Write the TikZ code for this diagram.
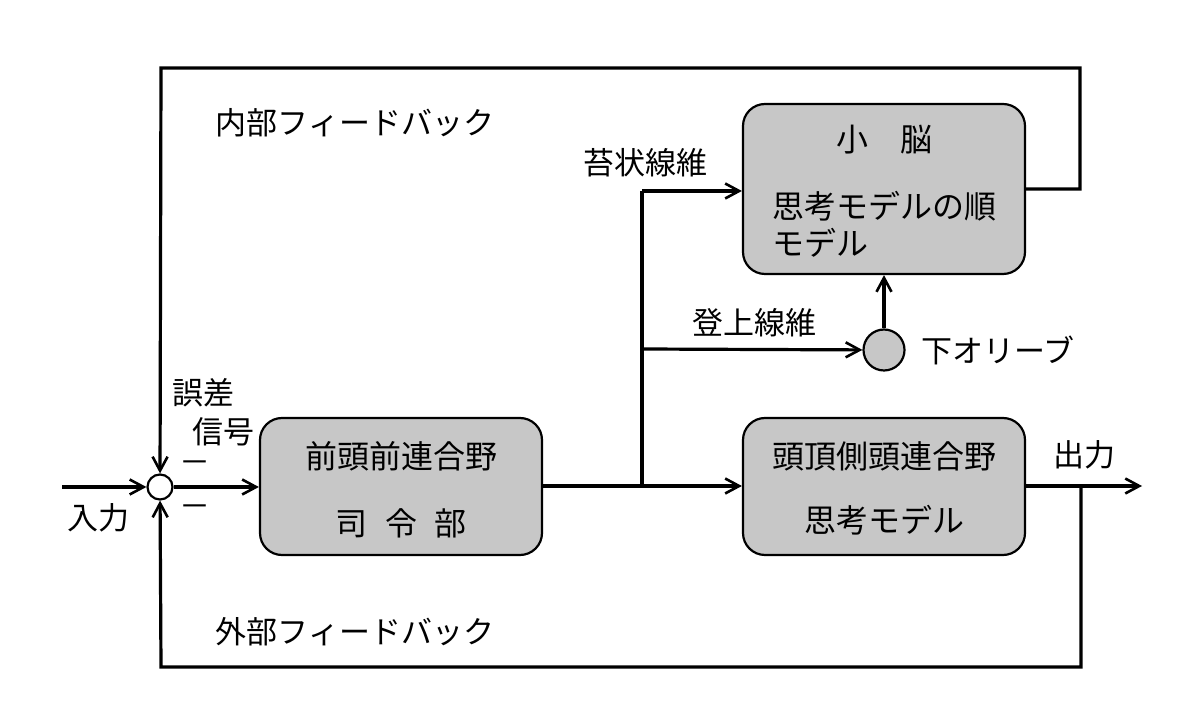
\documentclass[tikz,border=0pt]{standalone}
\usepackage{fontspec}
\setmainfont{Noto Sans CJK JP}
\usetikzlibrary{arrows.meta}
\begin{document}
\begin{tikzpicture}[x=0.5pt,y=-0.5pt,
  line/.style={line width=1.6pt},
  arr/.style={line width=1.6pt,-{Straight Barb[length=7pt,width=7.5pt,line width=1.3pt]}},
  blk/.style={draw,line width=1.1pt,fill=black!22,rounded corners=11pt,inner sep=0pt},
  lbl/.style={font=\fontsize{15.5}{18}\selectfont,inner sep=0pt},
  btx/.style={font=\fontsize{16}{19}\selectfont,inner sep=0pt}]
\useasboundingbox (0,0) rectangle (1200,715);
% nodes
\node[draw,circle,line width=1.1pt,fill=white,minimum size=12.5pt,inner sep=0pt] (sum) at (160,487) {};
\node[blk,minimum width=141pt,minimum height=68.5pt] (pfc) at (401,486.5) {};
\node[blk,minimum width=141pt,minimum height=68.5pt] (ptc) at (884,486.5) {};
\node[blk,minimum width=141pt,minimum height=85pt] (cb) at (884,189) {};
\node[draw,circle,line width=1.1pt,fill=black!22,minimum size=20.5pt,inner sep=0pt] (io) at (884,350) {};
% texts in boxes
\node[btx] (pfcA) at (401,456) {前頭前連合野};
\node[btx] (pfcB) at (401,523) {司\hspace{0.55em}令\hspace{0.55em}部};
\node[btx] (ptcA) at (884,456) {頭頂側頭連合野};
\node[btx] (ptcB) at (884,520) {思考モデル};
\node[btx] (cbA) at (884,140) {小　脳};
\node[btx,anchor=west] (cbB) at (772,206) {思考モデルの順};
\node[btx,anchor=west] (cbC) at (772,243) {モデル};
% other labels
\node[lbl] (inFb) at (355,123) {内部フィードバック};
\node[lbl] (exFb) at (355,632) {外部フィードバック};
\node[lbl] (mossy) at (645,163) {苔状線維};
\node[lbl,anchor=west] (climb) at (692,323) {登上線維};
\node[lbl,anchor=west] (iol) at (921,350) {下オリーブ};
\node[lbl] (err1) at (203,393) {誤差};
\node[lbl] (err2) at (223,432) {信号};
\node[lbl] (m1) at (195,467) {－};
\node[lbl] (m2) at (195,511) {－};
\node[lbl] (inl) at (99,518) {入力};
\node[lbl] (outl) at (1084,455) {出力};
% coordinates
\coordinate (inS) at (62,487);
\coordinate (outE) at (1142,486);
\coordinate (tl) at (161,68);
\coordinate (tr) at (1080,68);
\coordinate (trb) at (1080,189);
\coordinate (bl) at (161,667);
\coordinate (br) at (1081,667);
\coordinate (brt) at (1081,486);
\coordinate (jA) at (642,486);
\coordinate (jB) at (642,349);
\coordinate (jC) at (642,191);
% connectors
\draw[arr] (inS) -- (sum);
\draw[arr] (sum) -- (pfc.west |- sum);
\draw[arr] (pfc.east |- jA) -- (ptc.west |- jA);
\draw[arr] (ptc.east |- outE) -- (outE);
\draw[arr] (cb.east |- trb) -- (trb) -- (tr) -- (tl) -- (sum);
\draw[arr] (brt) -- (br) -- (bl) -- (sum);
\draw[line] (jA) -- (jC);
\draw[arr] (jC) -- (cb.west |- jC);
\draw[arr] (jB) -- (io);
\draw[arr] (io) -- (cb.south -| io);
\end{tikzpicture}
\end{document}
